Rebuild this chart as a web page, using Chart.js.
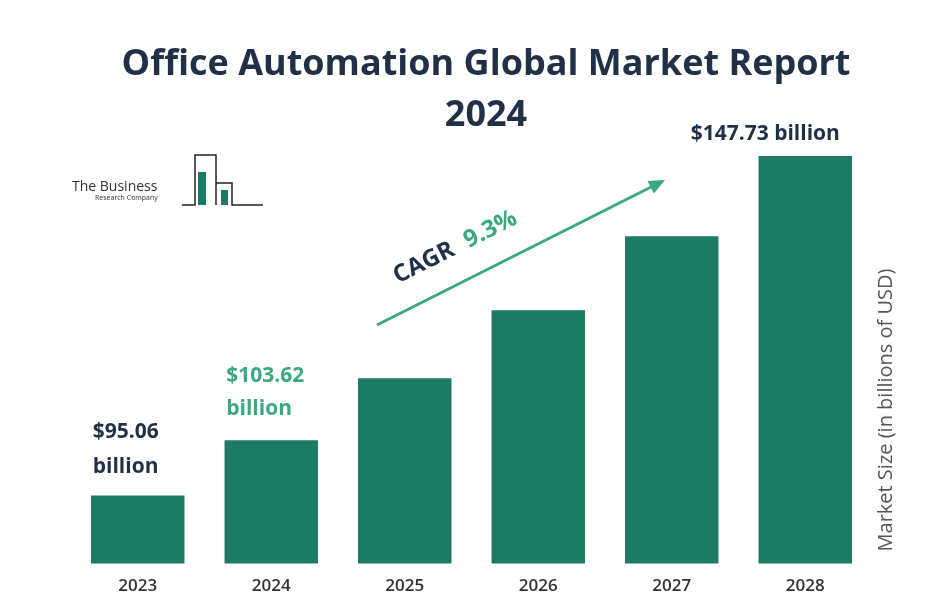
<!DOCTYPE html>
<html><head><meta charset="utf-8">
<script src="https://cdn.jsdelivr.net/npm/chart.js@4/dist/chart.umd.min.js"></script>
<style>html,body{margin:0;padding:0;background:#fff}</style>
</head><body><canvas id="c" width="952" height="604"></canvas>
<script>
const years = ['2023','2024','2025','2026','2027','2028'];
const marketSize = [95.06, 103.62, 113.26, 123.79, 135.30, 147.73];
const titleLines = ['Office Automation Global Market Report', '2024'];
const axisTitle = 'Market Size (in billions of USD)';
const barColor = '#1d7a66';
const dark = '#1f3047';
const green = '#3aa97f';

const overlay = {
  id: 'overlay',
  afterDraw(chart) {
    const ctx = chart.ctx, x = chart.scales.x, y = chart.scales.y;
    ctx.save();
    ctx.textAlign = 'center'; ctx.fillStyle = dark;
    ctx.font = 'bold 36px "Open Sans", sans-serif';
    ctx.fillText(titleLines[0], 486, 75);
    ctx.fillText(titleLines[1], 486, 126);
    ctx.font = 'bold 21px "Open Sans", sans-serif';
    ctx.textAlign = 'left';
    const x0 = x.getPixelForValue(0) - 45, y0 = y.getPixelForValue(marketSize[0]);
    ctx.fillStyle = dark;
    ctx.fillText('$' + marketSize[0].toFixed(2), x0, y0 - 58);
    ctx.fillText('billion', x0, y0 - 23);
    const x1 = x.getPixelForValue(1) - 45, y1 = y.getPixelForValue(marketSize[1]);
    ctx.fillStyle = green;
    ctx.fillText('$' + marketSize[1].toFixed(2), x1, y1 - 58);
    ctx.fillText('billion', x1, y1 - 25);
    ctx.textAlign = 'center'; ctx.fillStyle = dark;
    const x5 = x.getPixelForValue(5) - 40, y5 = y.getPixelForValue(marketSize[5]);
    ctx.fillText('$' + marketSize[5].toFixed(2) + ' billion', x5, y5 - 16);
    ctx.strokeStyle = green; ctx.fillStyle = green; ctx.lineWidth = 3;
    const ax = 377, ay = 325, bx = 665, by = 180;
    const ang = Math.atan2(by - ay, bx - ax);
    ctx.beginPath(); ctx.moveTo(ax, ay); ctx.lineTo(bx - 10 * Math.cos(ang), by - 10 * Math.sin(ang)); ctx.stroke();
    ctx.beginPath(); ctx.moveTo(bx, by);
    ctx.lineTo(bx - 16 * Math.cos(ang) + 7 * Math.sin(ang), by - 16 * Math.sin(ang) - 7 * Math.cos(ang));
    ctx.lineTo(bx - 16 * Math.cos(ang) - 7 * Math.sin(ang), by - 16 * Math.sin(ang) + 7 * Math.cos(ang));
    ctx.closePath(); ctx.fill();
    ctx.save();
    ctx.translate(465, 250); ctx.rotate(ang);
    ctx.font = 'bold 24px "Open Sans", sans-serif'; ctx.textAlign = 'left';
    ctx.fillStyle = dark; ctx.fillText('CAGR', -75, 0);
    ctx.fillStyle = green; ctx.fillText('9.3%', 4, 0);
    ctx.restore();
    ctx.save();
    ctx.translate(892, 410); ctx.rotate(-Math.PI / 2);
    ctx.textAlign = 'center'; ctx.fillStyle = '#555';
    ctx.font = '20px "Open Sans", sans-serif';
    ctx.fillText(axisTitle, 0, 0);
    ctx.restore();
    ctx.restore();
    ctx.save();
    ctx.fillStyle = '#333'; ctx.font = '14px "Open Sans", sans-serif'; ctx.textAlign = 'left';
    ctx.fillText('The Business', 72, 191);
    ctx.font = '7px "Open Sans", sans-serif';
    ctx.fillText('Research Company', 95, 200);
    ctx.strokeStyle = '#222'; ctx.lineWidth = 1.5;
    ctx.beginPath();
    ctx.moveTo(182, 205); ctx.lineTo(195, 205); ctx.lineTo(195, 155); ctx.lineTo(216, 155); ctx.lineTo(216, 205);
    ctx.moveTo(216, 183); ctx.lineTo(232, 183); ctx.lineTo(232, 205); ctx.lineTo(263, 205);
    ctx.stroke();
    ctx.fillStyle = barColor; ctx.fillRect(198, 172, 8, 33); ctx.fillRect(221, 190, 7, 15);
    ctx.restore();
  }
};

new Chart(document.getElementById('c'), {
  type: 'bar',
  data: { labels: years, datasets: [{ data: marketSize, backgroundColor: barColor, barPercentage: 0.7, categoryPercentage: 1 }] },
  options: {
    responsive: false, animation: false, devicePixelRatio: 1,
    layout: { padding: { left: 71, right: 80, top: 156, bottom: 4 } },
    plugins: { legend: { display: false }, tooltip: { enabled: false } },
    scales: {
      x: { grid: { display: false }, border: { display: false },
           ticks: { color: '#333', font: { size: 17, family: '"Open Sans", sans-serif', weight: '600' }, padding: 4 } },
      y: { display: false, min: 84.5, max: 147.73 }
    }
  },
  plugins: [overlay]
});
</script></body></html>
